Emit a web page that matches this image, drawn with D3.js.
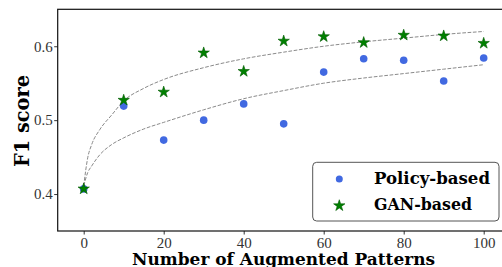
<!DOCTYPE html>
<html>
<head>
<meta charset="utf-8">
<script src="https://cdn.jsdelivr.net/npm/d3@7"></script>
<style>
  body { margin: 0; background: #fff; }
  svg { display: block; }
</style>
</head>
<body>
<div id="chartDiv"></div>
<script>
// values
let augCounts = [0, 10, 20, 30, 40, 50, 60, 70, 80, 90, 100];
let policyScores = [0.407, 0.519, 0.473, 0.500, 0.522, 0.495, 0.565, 0.583, 0.581, 0.553, 0.584];
let ganScores = [0.407, 0.527, 0.538, 0.591, 0.566, 0.607, 0.613, 0.605, 0.615, 0.614, 0.604];

// dashed trend curves
let trendX = [0, 1, 2, 4, 7, 10, 15, 20, 30, 40, 50, 60, 70, 80, 90, 100];
let ganTrend = [0.411, 0.449, 0.467, 0.487, 0.507, 0.526, 0.543, 0.555, 0.571, 0.583, 0.592, 0.600, 0.606, 0.611, 0.616, 0.620];
let policyTrend = [0.411, 0.429, 0.438, 0.453, 0.467, 0.476, 0.488, 0.497, 0.514, 0.529, 0.540, 0.550, 0.557, 0.563, 0.569, 0.575];

let xTicks = [0, 20, 40, 60, 80, 100];
let yTicks = [0.4, 0.5, 0.6];
let legendLabels = ["Policy-based", "GAN-based"];

let width = 502, height = 267;
let plotLeft = 57.7, plotRight = 509.7, plotTop = 9.3, plotBottom = 231;

let svg = d3.select("#chartDiv")
    .append("svg")
    .attr("width", width)
    .attr("height", height);

let xScale = d3.scaleLinear()
    .domain([-6.5, 106.5])
    .range([plotLeft, plotRight]);

let yScale = d3.scaleLinear()
    .domain([0.35, 0.65])
    .range([plotBottom, plotTop]);

// axes
let xAxis = d3.axisBottom(xScale)
    .tickValues(xTicks)
    .tickSize(3.5)
    .tickSizeOuter(0)
    .tickPadding(3)
    .tickFormat(d3.format("d"));

let yAxis = d3.axisLeft(yScale)
    .tickValues(yTicks)
    .tickSize(3.5)
    .tickSizeOuter(0)
    .tickPadding(1.5)
    .tickFormat(d3.format(".1f"));

let gx = svg.append("g")
    .attr("transform", "translate(0," + plotBottom + ")")
    .call(xAxis);
let gy = svg.append("g")
    .attr("transform", "translate(" + plotLeft + ",0)")
    .call(yAxis);

[gx, gy].forEach(function(g){
    g.select(".domain").remove();
    g.selectAll(".tick line").attr("stroke", "#000").attr("stroke-width", 0.8);
    g.selectAll(".tick text")
        .attr("fill", "#333")
        .style("font-family", "'Liberation Serif', serif")
        .style("font-size", "15px");
});

// frame
let frame = svg.append("g").attr("fill", "none").attr("stroke", "#111").attr("stroke-width", 1.2);
frame.append("rect")
    .attr("x", plotLeft)
    .attr("y", plotTop)
    .attr("width", plotRight - plotLeft)
    .attr("height", plotBottom - plotTop);

// trend lines
let trendLine = d3.line()
    .x(function(d){ return xScale(d[0]); })
    .y(function(d){ return yScale(d[1]); })
    .curve(d3.curveMonotoneX);

[ganTrend, policyTrend].forEach(function(series){
    svg.append("path")
        .datum(trendX.map(function(x, i){ return [x, series[i]]; }))
        .attr("fill", "none")
        .attr("stroke", "#8a8a8a")
        .attr("stroke-width", 1)
        .attr("stroke-dasharray", "3.7,1.6")
        .attr("d", trendLine);
});

// points
let blue = "#4169e1", green = "#008000";
let starPath = d3.symbol().type(d3.symbolStar).size(40);

svg.append("g").selectAll("circle")
    .data(augCounts)
    .enter().append("circle")
    .attr("cx", function(d){ return xScale(d); })
    .attr("cy", function(d, i){ return yScale(policyScores[i]); })
    .attr("r", 3.8)
    .attr("fill", blue);

svg.append("g").selectAll("path")
    .data(augCounts)
    .enter().append("path")
    .attr("d", starPath)
    .attr("transform", function(d, i){ return "translate(" + xScale(d) + "," + yScale(ganScores[i]) + ")"; })
    .attr("fill", green)
    .attr("stroke", "#005a00")
    .attr("stroke-width", 0.6);

// axis titles
svg.append("text")
    .attr("x", 283.5)
    .attr("y", 264.5)
    .attr("text-anchor", "middle")
    .attr("textLength", 303)
    .attr("lengthAdjust", "spacingAndGlyphs")
    .style("font-family", "'DejaVu Serif', serif")
    .style("font-weight", "bold")
    .style("font-size", "17.5px")
    .text("Number of Augmented Patterns");

svg.append("text")
    .attr("transform", "translate(28.5,121) rotate(-90)")
    .attr("text-anchor", "middle")
    .attr("textLength", 92)
    .attr("lengthAdjust", "spacingAndGlyphs")
    .style("font-family", "'DejaVu Serif', serif")
    .style("font-weight", "bold")
    .style("font-size", "20px")
    .text("F1 score");

// legend
let legend = svg.append("g");
legend.append("rect")
    .attr("x", 312.7)
    .attr("y", 162.3)
    .attr("width", 186.3)
    .attr("height", 58.7)
    .attr("rx", 4)
    .attr("fill", "#fff")
    .attr("fill-opacity", 0.85)
    .attr("stroke", "#555")
    .attr("stroke-width", 1);

let legendRowY = [179, 205.7];
legend.append("circle")
    .attr("cx", 339.3)
    .attr("cy", legendRowY[0])
    .attr("r", 3.5)
    .attr("fill", blue);
legend.append("path")
    .attr("d", starPath)
    .attr("transform", "translate(339.3," + legendRowY[1] + ")")
    .attr("fill", green)
    .attr("stroke", "#005a00")
    .attr("stroke-width", 0.6);

legend.selectAll("text")
    .data(legendLabels)
    .enter().append("text")
    .attr("x", 374)
    .attr("y", function(d, i){ return legendRowY[i] + 4.5; })
    .attr("textLength", function(d, i){ return i === 0 ? 116 : 98; })
    .attr("lengthAdjust", "spacingAndGlyphs")
    .style("font-family", "'DejaVu Serif', serif")
    .style("font-weight", "bold")
    .style("font-size", "17px")
    .text(function(d){ return d; });
</script>
</body>
</html>
